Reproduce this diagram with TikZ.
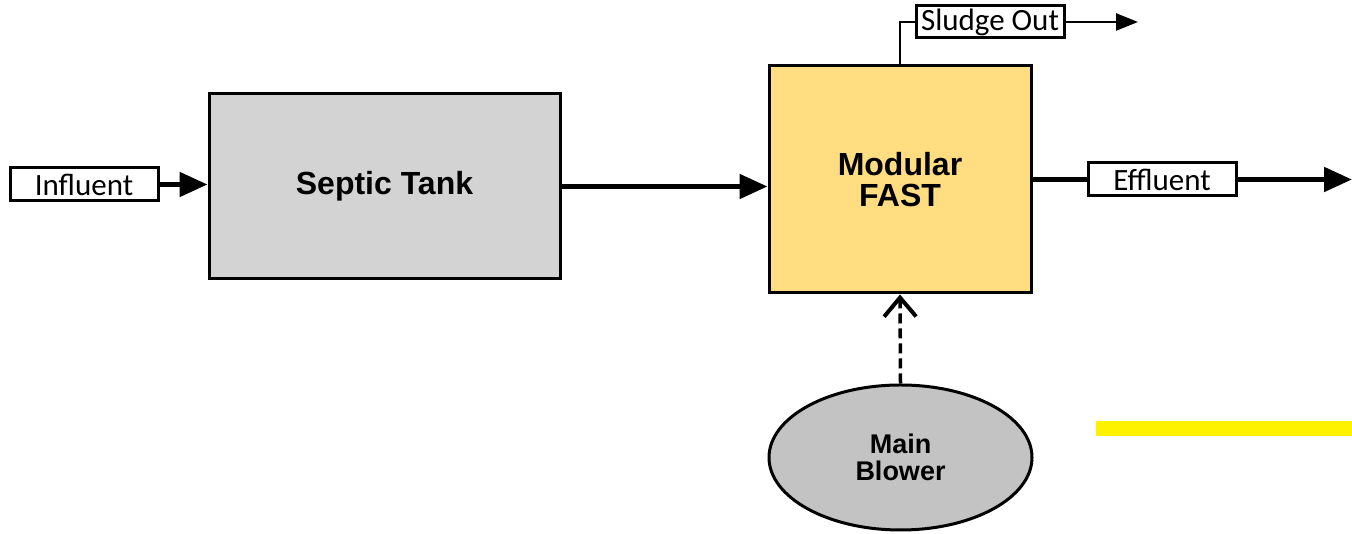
\documentclass[tikz,border=0pt]{standalone}
\usepackage{fontspec}
\setmainfont{Carlito}
\newfontfamily\headfont{Liberation Sans}
\usetikzlibrary{arrows.meta,shapes.geometric}
\definecolor{tankgray}{HTML}{D3D3D3}
\definecolor{fastyellow}{HTML}{FFDD80}
\definecolor{blowergray}{HTML}{C3C3C3}
\begin{document}
\begin{tikzpicture}[
			x=1pt,y=1pt,
			tagbox/.style={draw,line width=3pt,fill=white,inner sep=0pt,minimum width=148pt,minimum height=33pt,font=\fontsize{31}{31}\selectfont},
			unit/.style={draw,line width=3pt,inner sep=0pt,align=center,font=\headfont\bfseries\fontsize{32}{31}\selectfont},
			flow/.style={line width=5pt,-{Triangle[length=28pt,width=24pt]}},
			thinflow/.style={line width=2.5pt,-{Triangle[length=22pt,width=17pt]}},
			airflow/.style={line width=3.5pt,dash pattern=on 10pt off 5pt,-{Straight Barb[length=19pt,width=32pt,line width=4pt]}}
		]
		\useasboundingbox (0,0) rectangle (1352,534);
		% boxes
		\node[tagbox] (influent) at (84,349.5) {Influent};
		\node[unit,fill=tankgray,minimum width=351pt,minimum height=185pt] (septic) at (384.5,347.5) {Septic Tank};
		\node[unit,fill=fastyellow,minimum width=262pt,minimum height=227pt] (fast) at (900,354.5) {Modular\\FAST};
		\node[tagbox,minimum height=32pt] (sludge) at (990,512) {Sludge Out};
		\node[tagbox] (effluent) at (1162,354.5) {Effluent};
		\node[ellipse,draw,line width=3pt,fill=blowergray,minimum width=263pt,minimum height=145pt,inner sep=0pt,align=center,
			font=\headfont\bfseries\fontsize{27}{27}\selectfont] (blower) at (900.5,76.5) {Main\\Blower};
		\coordinate (sludgeend) at (1138,512);
		\coordinate (outlet) at (1352,354.5);
		% connectors
		\draw[flow] (influent.east) -- (influent.east -| septic.west);
		\draw[flow] (septic.east) -- (septic.east -| fast.west);
		\draw[line width=5pt] (fast.east) -- (effluent.west);
		\draw[flow] (effluent.east) -- (outlet);
		\draw[line width=2.5pt] (fast.north) -- (fast.north |- sludge) -- (sludge.west);
		\draw[thinflow] (sludge.east) -- (sludgeend);
		\draw[airflow] (blower.north) -- (fast.south);
		% marker
		\fill[yellow] (1096,98) rectangle (1352,113);
	\end{tikzpicture}
\end{document}
